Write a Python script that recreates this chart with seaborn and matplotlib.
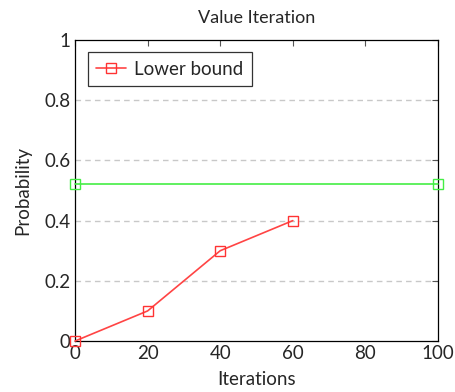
import matplotlib
matplotlib.use("Agg")
import matplotlib.pyplot as plt
import pandas as pd
import seaborn as sns

iterations = [0, 20, 40, 60]
lower_bound = [0.0, 0.1, 0.3, 0.4]
reference_x = [0, 100]
reference_y = [0.52, 0.52]
x_ticks = [0, 20, 40, 60, 80, 100]
y_ticks = [0, 0.2, 0.4, 0.6, 0.8, 1]
y_tick_labels = ["0", "0.2", "0.4", "0.6", "0.8", "1"]

sns.set_style("white")
plt.rcParams["font.family"] = ["Lato", "DejaVu Sans"]

fig = plt.figure(figsize=(4.56, 3.92), dpi=100)
ax = fig.add_axes([0.1645, 0.130, 0.796, 0.768])

lower_df = pd.DataFrame({"Iterations": iterations, "Probability": lower_bound})
ref_df = pd.DataFrame({"Iterations": reference_x, "Probability": reference_y})

for y in y_ticks[1:-1]:
    ax.axhline(y, color="#c8c8c8", linestyle=(0, (4, 3)), linewidth=1.0, zorder=0)

sns.lineplot(data=ref_df, x="Iterations", y="Probability", ax=ax, color="#44ee44",
             marker="s", markersize=6.5, markerfacecolor="none", markeredgecolor="#44ee44",
             markeredgewidth=1.0, linewidth=1.2, clip_on=False, zorder=3)
sns.lineplot(data=lower_df, x="Iterations", y="Probability", ax=ax, color="#ff4444",
             marker="s", markersize=6.5, markerfacecolor="none", markeredgecolor="#ff3333",
             markeredgewidth=1.0, linewidth=1.2, clip_on=False, zorder=4,
             label="Lower bound")

ax.set_xlim(0, 100)
ax.set_ylim(0, 1)
ax.set_xticks(x_ticks)
ax.set_yticks(y_ticks)
ax.set_yticklabels(y_tick_labels)
ax.tick_params(axis="both", direction="in", length=4, width=0.8, color="#555555",
               labelsize=13.5, top=True, right=True, pad=3)
for spine in ax.spines.values():
    spine.set_color("black")
    spine.set_linewidth(0.9)

ax.set_xlabel("Iterations", fontsize=13.5, labelpad=6)
ax.set_ylabel("Probability", fontsize=13.5, labelpad=10)
ax.set_title("Value Iteration", fontsize=13, pad=12)

leg = ax.legend(loc="upper left", fontsize=13.5, frameon=True, fancybox=False,
                edgecolor="black", borderpad=0.45, handlelength=1.6, handletextpad=0.4,
                bbox_to_anchor=(0.01, 0.99))
leg.get_frame().set_linewidth(0.9)

fig.savefig("out.png", dpi=100)
